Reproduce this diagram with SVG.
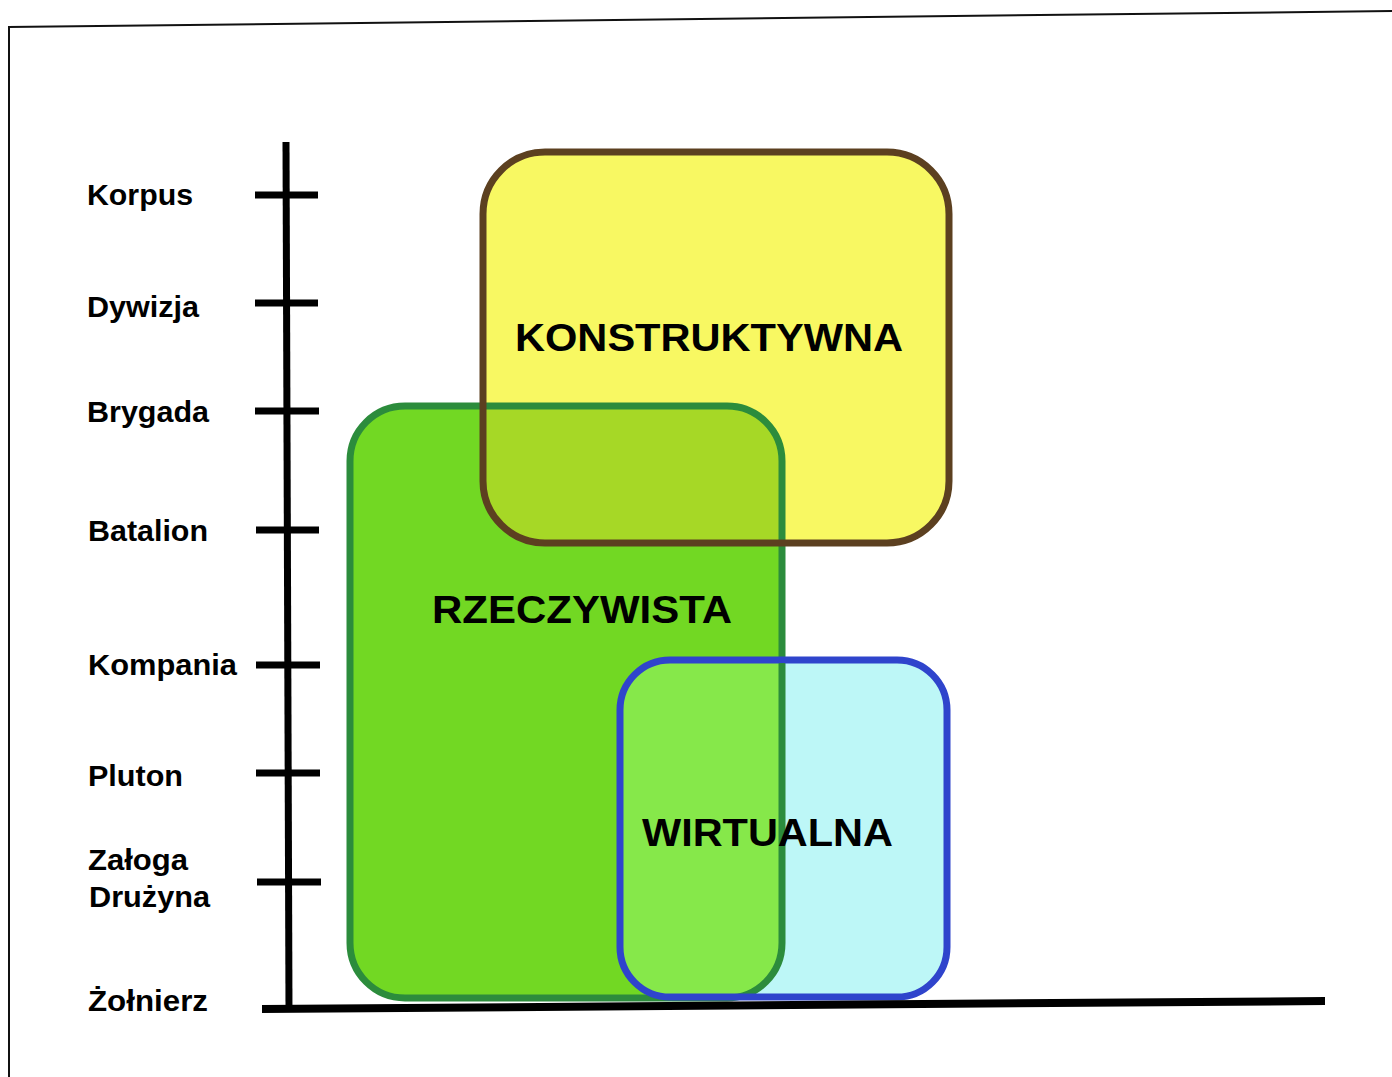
<svg xmlns="http://www.w3.org/2000/svg" width="1392" height="1077" viewBox="0 0 1392 1077">
<style>
.lbl{font-family:"Liberation Sans",Arial,sans-serif;font-weight:bold;font-size:30px;fill:#000}
.big{font-family:"Liberation Sans",Arial,sans-serif;font-weight:bold;font-size:39px;fill:#000}
.ax{stroke:#000;stroke-width:7;fill:none}
.frame{stroke:#111;stroke-width:2;fill:none}
</style>
<defs>
<clipPath id="cGreen"><rect x="350" y="406" width="432" height="592" rx="55" ry="55"/></clipPath>
</defs>
<rect width="1392" height="1077" fill="#fff"/>
<g id="frame">
<line class="frame" x1="8" y1="27" x2="1392" y2="11"/>
<line class="frame" x1="9" y1="27" x2="9" y2="1077"/>
</g>
<g id="fills">
<rect x="350" y="406" width="432" height="592" rx="55" ry="55" fill="#72d823"/>
<rect x="483" y="152" width="466" height="391" rx="62" ry="62" fill="#f8f862"/>
<rect x="620" y="660" width="327" height="337" rx="50" ry="50" fill="#bdf7f7"/>
<g clip-path="url(#cGreen)">
<rect x="483" y="152" width="466" height="391" rx="62" ry="62" fill="#a6d826"/>
<rect x="620" y="660" width="327" height="337" rx="50" ry="50" fill="#86e84a"/>
</g>
</g>
<g id="node-rzeczywista">
<rect x="350" y="406" width="432" height="592" rx="55" ry="55" fill="none" stroke="#2c8c3c" stroke-width="7"/>
<text class="big" x="432" y="623" textLength="300" lengthAdjust="spacingAndGlyphs">RZECZYWISTA</text>
</g>
<g id="node-konstruktywna">
<rect x="483" y="152" width="466" height="391" rx="62" ry="62" fill="none" stroke="#5c4020" stroke-width="7"/>
<text class="big" x="515" y="351" textLength="388" lengthAdjust="spacingAndGlyphs">KONSTRUKTYWNA</text>
</g>
<g id="node-wirtualna">
<rect x="620" y="660" width="327" height="337" rx="50" ry="50" fill="none" stroke="#2f44cc" stroke-width="7"/>
<line x1="782" y1="663" x2="782" y2="940" stroke="#2c8c3c" stroke-width="6" opacity="0.85"/>
<text class="big" x="642" y="846" textLength="251" lengthAdjust="spacingAndGlyphs">WIRTUALNA</text>
</g>
<g id="connectors">
<line class="ax" x1="286" y1="142" x2="289" y2="1010"/>
<line x1="262" y1="1009" x2="1325" y2="1001" stroke="#000" stroke-width="8"/>
<line class="ax" x1="255" y1="195" x2="318" y2="195"/>
<line class="ax" x1="255" y1="303" x2="318" y2="303"/>
<line class="ax" x1="255" y1="411" x2="319" y2="411"/>
<line class="ax" x1="256" y1="530" x2="319" y2="530"/>
<line class="ax" x1="256" y1="665" x2="320" y2="665"/>
<line class="ax" x1="256" y1="773" x2="320" y2="773"/>
<line class="ax" x1="257" y1="882" x2="321" y2="882"/>
</g>
<g id="labels">
<text class="lbl" x="87" y="205" textLength="106" lengthAdjust="spacingAndGlyphs">Korpus</text>
<text class="lbl" x="87" y="317" textLength="112" lengthAdjust="spacingAndGlyphs">Dywizja</text>
<text class="lbl" x="87" y="422" textLength="122" lengthAdjust="spacingAndGlyphs">Brygada</text>
<text class="lbl" x="88" y="541" textLength="120" lengthAdjust="spacingAndGlyphs">Batalion</text>
<text class="lbl" x="88" y="675" textLength="149" lengthAdjust="spacingAndGlyphs">Kompania</text>
<text class="lbl" x="88" y="786" textLength="95" lengthAdjust="spacingAndGlyphs">Pluton</text>
<text class="lbl" x="88" y="870" textLength="100" lengthAdjust="spacingAndGlyphs">Załoga</text>
<text class="lbl" x="89" y="907" textLength="121" lengthAdjust="spacingAndGlyphs">Drużyna</text>
<text class="lbl" x="88" y="1011" textLength="120" lengthAdjust="spacingAndGlyphs">Żołnierz</text>
</g>
</svg>
